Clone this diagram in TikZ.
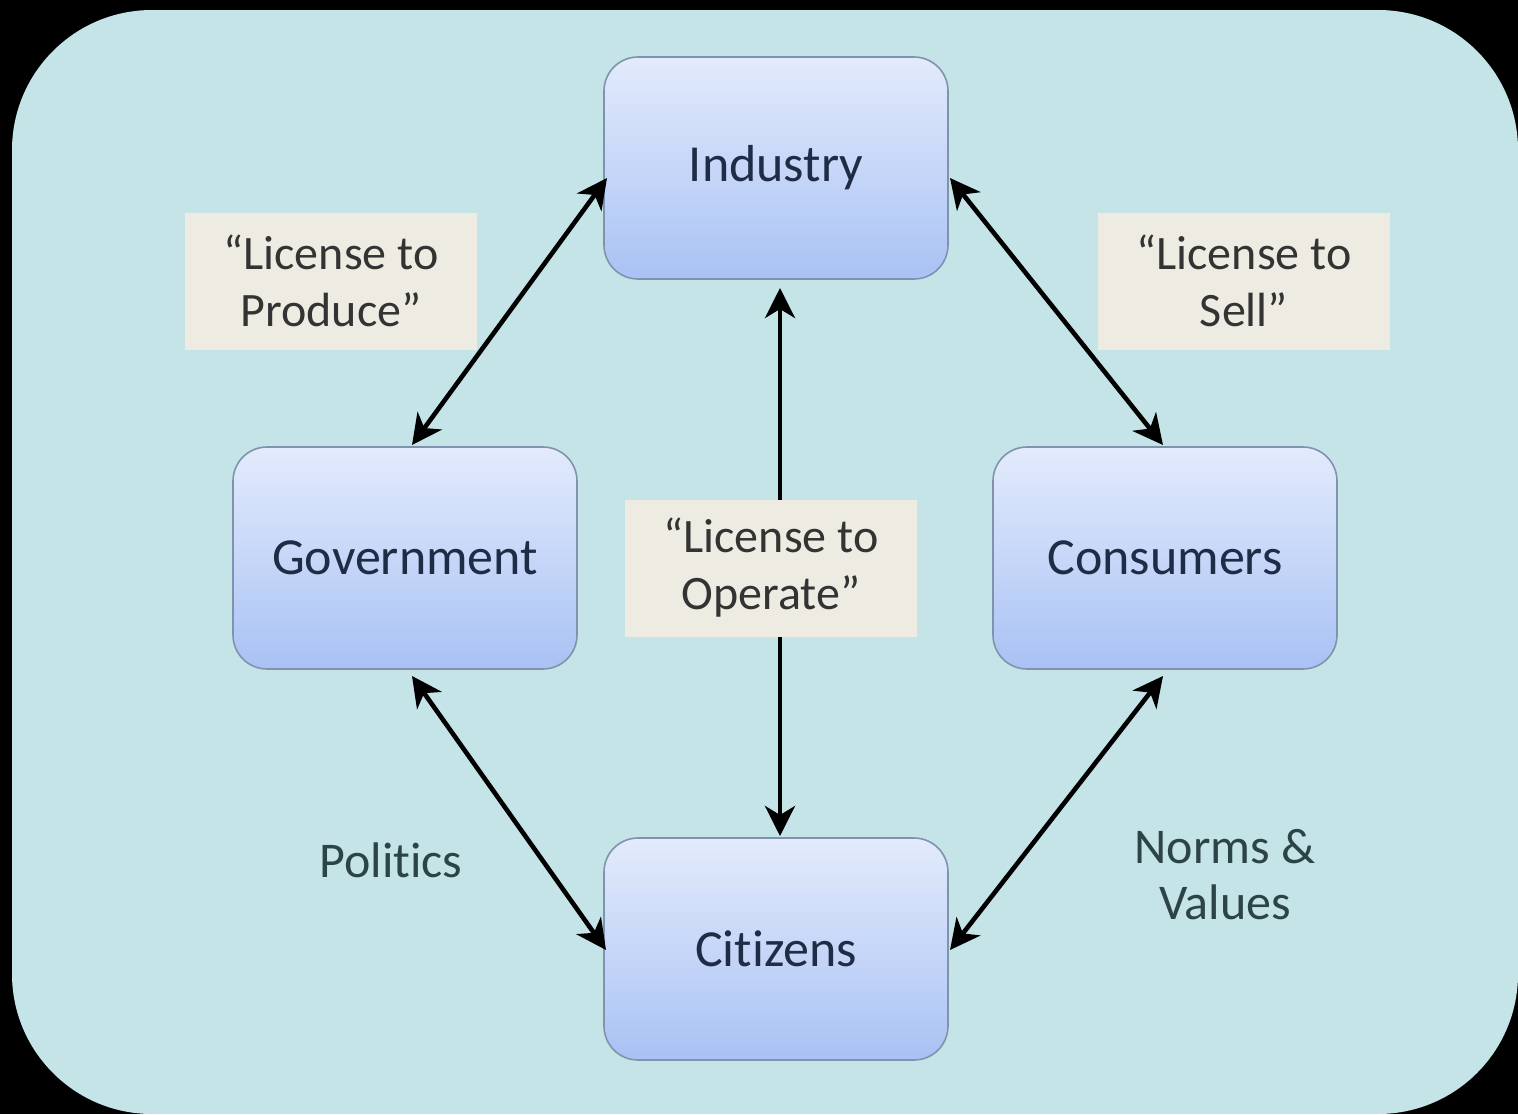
\documentclass[tikz,border=0pt]{standalone}
\usepackage{fontspec}
\setmainfont{Carlito}[Ligatures=NoCommon]
\usetikzlibrary{arrows.meta}
\definecolor{panel}{HTML}{C5E4E8}
\definecolor{boxtop}{HTML}{E3EBFC}
\definecolor{boxbot}{HTML}{A9C2F4}
\definecolor{boxedge}{HTML}{8192AE}
\definecolor{tagfill}{HTML}{EEEBE2}
\definecolor{boxtext}{HTML}{1E2C45}
\definecolor{tagtext}{HTML}{333333}
\definecolor{freetext}{HTML}{2C4448}
\tikzset{
  actor/.style={rounded corners=34pt, draw=boxedge, line width=1.6pt,
    top color=boxtop, bottom color=boxbot, minimum width=344pt,
    minimum height=222pt, inner sep=0pt, text=boxtext,
    font=\fontsize{52}{60}\selectfont},
  licence/.style={fill=tagfill, minimum width=292pt, minimum height=137pt,
    inner sep=0pt, align=center, text=tagtext,
    font=\fontsize{48}{57}\selectfont},
  freelabel/.style={align=center, text=freetext,
    font=\fontsize{50}{56}\selectfont},
  tip/.tip={Stealth[length=30pt,width=30pt,inset=9pt]},
  link/.style={line width=4.6pt, black, tip-tip}
}
\begin{document}
\begin{tikzpicture}[x=1pt,y=-1pt]
  % frame and panel
  \fill[black] (0,0) rectangle (1518,1114);
  \useasboundingbox (0,0) rectangle (1518,1114);
  \fill[panel, rounded corners=140pt] (12,10) rectangle (1518,1114);

  % actors
  \node[actor] (ind) at (776,168) {\raisebox{-3pt}{Industry}};
  \node[actor] (gov) at (405,558) {Government};
  \node[actor] (con) at (1165,558) {Consumers};
  \node[actor] (cit) at (776,949) {Citizens};

  % anchor points on the box borders
  \coordinate (indL) at (607,178);
  \coordinate (indR) at (950,178);
  \coordinate (indB) at (780,288);
  \coordinate (govT) at (412,445);
  \coordinate (govB) at (412,676);
  \coordinate (conT) at (1163,445);
  \coordinate (conB) at (1163,676);
  \coordinate (citL) at (606,950);
  \coordinate (citR) at (950,950);
  \coordinate (citT) at (780,836);

  % relations
  \draw[link] (indL) -- (govT);
  \draw[link] (indR) -- (conT);
  \draw[link] (indB) -- (citT);
  \draw[link] (govB) -- (citL);
  \draw[link] (conB) -- (citR);

  % licence tags
  \node[licence] (prod) at (331,281) {“License to\\Produce”};
  \node[licence] (sell) at (1244,281) {“License to\\Sell”};
  \node[licence] (oper) at (771,568) {“License to\\Operate”};

  % free labels
  \node[freelabel] (pol) at (391,860) {Politics};
  \node[freelabel] (norm) at (1225,875) {Norms \&\\Values};
\end{tikzpicture}
\end{document}
